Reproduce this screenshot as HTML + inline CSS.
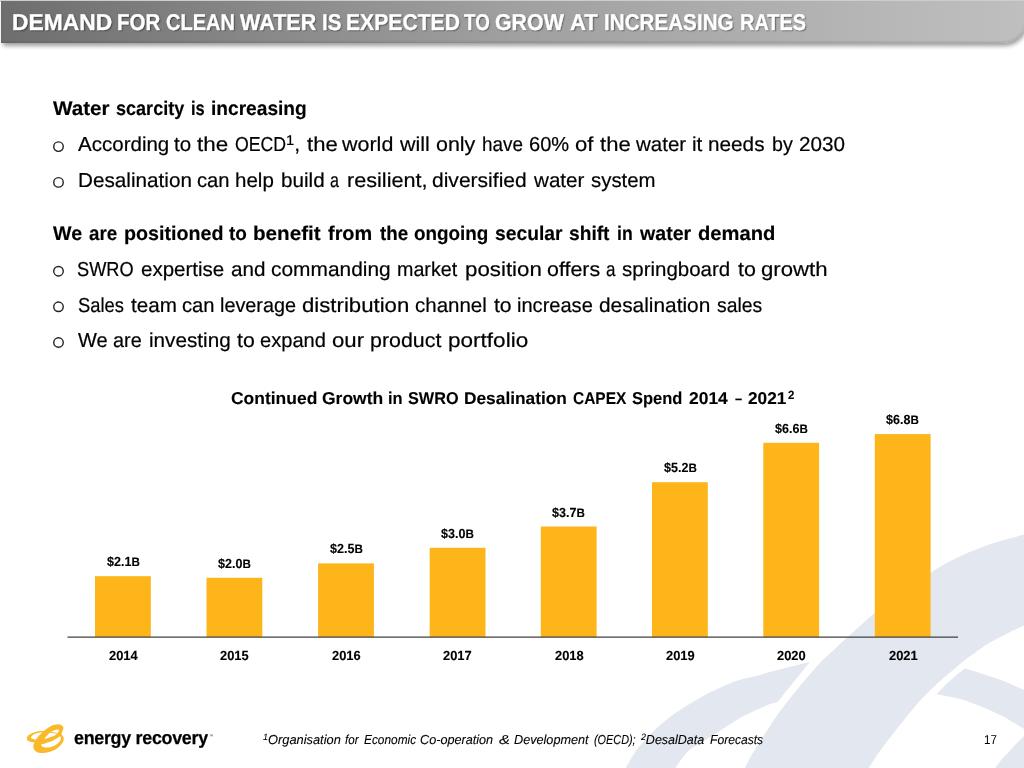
<!DOCTYPE html>
<html lang="en"><head><meta charset="utf-8"><title>Demand for clean water</title>
<style>
*{margin:0;padding:0;box-sizing:border-box}
html,body{width:1024px;height:768px;overflow:hidden;background:#fff}
body{position:relative;font-family:"Liberation Sans", sans-serif;color:#000}
.t{position:absolute;white-space:nowrap;transform-origin:0 0;line-height:1.2;text-rendering:geometricPrecision}
.sp{font-size:.70em;position:relative;top:-.46em}
.sb{font-size:.93em}

.hdr{position:absolute;left:1px;top:1px;width:1024px;height:42px;border-radius:0 0 22px 0;
 background:linear-gradient(90deg,#6e6e6e 0%,#888888 25%,#a0a0a0 50%,#afafaf 75%,#b8b8b8 88%,#bfbfbf 100%);
 box-shadow:2px 3px 4px rgba(0,0,0,.38), inset 0 -1.5px 1.5px rgba(0,0,0,.10);}
.hdrtop{position:absolute;left:0;top:0;width:1024px;height:1.5px;background:#d2d2d2}
.wm,.lg,.ch{position:absolute;left:0;top:0}
.ln{position:absolute;left:0;width:1024px;height:0;line-height:1.2;white-space:pre}
.ln .t{top:0;white-space:pre}
.reg{position:absolute;left:209.9px;top:734px;font-size:4.2px;font-weight:bold;color:#333;line-height:1}
</style></head>
<body>
<svg class="wm" width="1024" height="768" viewBox="0 0 1024 768"><g fill="#e3e7f0"><path d="M623.0,772.0C623.9,770.7 626.2,767.2 628.1,764.0C630.0,760.8 631.7,756.9 634.4,753.0C637.1,749.1 640.8,744.7 644.5,740.5C648.2,736.3 652.0,732.4 656.9,728.0C661.8,723.6 667.4,718.7 674.0,714.0C680.6,709.3 689.4,704.0 696.2,700.0C703.1,696.0 708.1,693.2 715.0,690.0C721.9,686.8 730.2,683.0 737.5,680.5C744.8,678.0 752.1,677.0 758.8,675.2C765.4,673.5 771.2,671.6 777.5,670.0C783.8,668.4 790.9,666.6 796.2,665.3C801.6,664.0 807.5,662.5 809.8,662.0L777.5,701.9C775.9,702.4 772.2,703.0 768.0,704.7C763.8,706.4 756.7,709.8 752.0,712.0C747.3,714.2 744.6,715.3 740.0,718.0C735.4,720.7 730.1,724.4 724.4,728.0C718.7,731.6 711.7,735.9 706.0,739.5C700.3,743.1 693.8,746.6 690.0,749.5C686.2,752.4 685.0,754.6 683.0,757.0C681.0,759.4 679.9,761.5 678.1,764.0C676.4,766.5 673.4,770.7 672.5,772.0Z"/><path d="M743.0,772.0C743.6,770.7 745.3,767.1 746.9,764.0C748.5,760.9 750.3,757.2 752.5,753.5C754.7,749.8 757.3,745.8 760.0,741.5C762.7,737.2 765.8,732.6 768.8,728.0C771.8,723.4 774.7,718.7 778.0,714.0C781.3,709.3 785.4,704.3 788.8,700.0C792.1,695.7 795.6,691.3 798.3,688.0C801.0,684.7 802.2,683.2 805.0,680.0C807.8,676.8 811.8,672.1 815.0,668.5C818.2,664.9 821.3,661.4 824.3,658.5C827.2,655.6 829.9,653.6 832.7,651.0C835.5,648.4 838.2,645.7 841.0,643.1C843.8,640.5 846.5,638.1 849.3,635.6C852.1,633.1 854.9,630.6 857.7,628.1C860.5,625.6 863.2,623.0 866.0,620.6C868.8,618.2 870.3,616.7 874.3,613.5C878.3,610.3 884.0,605.9 890.0,601.5C896.0,597.1 903.0,592.0 910.0,587.0C917.0,582.0 925.9,575.8 932.0,571.8C938.1,567.8 941.7,565.7 946.6,563.0C951.5,560.3 956.4,557.9 961.2,555.7C966.1,553.5 970.9,551.6 975.7,549.6C980.6,547.6 985.4,545.6 990.3,544.0C995.2,542.4 999.3,541.3 1004.9,539.7C1010.5,538.1 1019.5,535.8 1024.0,534.6C1028.5,533.4 1030.7,532.9 1032.0,532.5L1032.0,621.5C1030.7,622.2 1027.2,624.0 1024.0,625.5C1020.8,627.0 1016.6,628.8 1013.0,630.5C1009.4,632.2 1006.8,633.8 1002.5,636.0C998.2,638.2 991.9,641.3 987.5,644.0C983.1,646.7 979.8,649.3 976.0,652.0C972.2,654.7 968.8,657.0 965.0,660.0C961.2,663.0 957.0,666.7 953.0,670.0C949.0,673.3 945.0,676.7 941.2,680.0C937.5,683.3 933.9,686.7 930.5,690.0C927.1,693.3 923.7,696.7 920.6,700.0C917.5,703.3 914.8,706.7 912.0,710.0C909.2,713.3 907.0,716.2 904.0,720.0C901.0,723.8 897.3,728.3 894.0,732.5C890.7,736.7 887.1,741.3 884.4,745.0C881.6,748.7 879.7,751.3 877.5,754.5C875.3,757.7 873.1,761.1 871.3,764.0C869.5,766.9 867.3,770.7 866.5,772.0Z"/><path d="M964.8,668.6C967.5,669.4 974.9,671.4 981.1,673.4C987.3,675.4 995.1,677.7 1002.2,680.5C1009.4,683.3 1019.0,687.8 1024.0,690.0C1029.0,692.2 1030.7,693.3 1032.0,694.0L1032.0,734.0C1030.7,733.1 1029.0,731.9 1024.0,728.9C1019.0,725.9 1009.4,719.8 1002.2,716.0C995.1,712.2 988.1,709.2 981.1,706.4C974.1,703.5 967.4,700.9 960.0,698.9C952.6,696.9 940.5,695.0 936.6,694.2Q949,680.5 964.8,668.6Z"/><path d="M992.0,772.0C992.5,771.3 993.5,770.2 995.2,768.0C996.9,765.8 999.7,761.8 1002.0,759.0C1004.3,756.2 1006.9,753.9 1009.2,751.4C1011.5,748.9 1013.5,746.6 1016.0,744.0C1018.5,741.4 1021.3,738.6 1024.0,736.0C1026.7,733.4 1030.7,729.8 1032.0,728.5L1032,772Z"/></g></svg>
<div class="hdrtop"></div>
<div class="hdr"></div>
<svg class="ch" width="1024" height="768" viewBox="0 0 1024 768"><rect x="95.0" y="576.2" width="55.8" height="60.8" fill="#fdb51a"/><rect x="206.5" y="577.8" width="55.8" height="59.2" fill="#fdb51a"/><rect x="318.1" y="563.4" width="55.8" height="73.6" fill="#fdb51a"/><rect x="429.7" y="547.8" width="55.8" height="89.2" fill="#fdb51a"/><rect x="540.8" y="526.5" width="55.8" height="110.5" fill="#fdb51a"/><rect x="652.0" y="482.2" width="55.8" height="154.8" fill="#fdb51a"/><rect x="763.3" y="442.8" width="55.8" height="194.2" fill="#fdb51a"/><rect x="874.8" y="434.1" width="55.8" height="202.9" fill="#fdb51a"/><line x1="67.5" y1="637.05" x2="958" y2="637.05" stroke="#404040" stroke-width="1.35"/></svg>
<svg class="ch" width="1024" height="768" viewBox="0 0 1024 768"><g fill="none" stroke="#222" stroke-width="1.4"><circle cx="58.5" cy="146.6" r="4.75"/><circle cx="58.5" cy="182.4" r="4.75"/><circle cx="58.5" cy="271.2" r="4.75"/><circle cx="58.5" cy="306.8" r="4.75"/><circle cx="58.5" cy="342.5" r="4.75"/></g></svg>

<div class="ln" style="top:9.02px;font-size:22.8px;font-weight:bold;color:#fff;-webkit-text-stroke:0.35px #fff;text-shadow:1px 1px 1.5px rgba(0,0,0,.5);"><span class="t" style="left:11.70px;transform:scaleX(1.0005)">DEMAND </span><span class="t" style="left:116.95px;transform:scaleX(0.9000)">FOR </span><span class="t" style="left:166.12px;transform:scaleX(0.8783)">CLEAN </span><span class="t" style="left:239.80px;transform:scaleX(0.9462)">WATER </span><span class="t" style="left:321.94px;transform:scaleX(0.9028)">IS </span><span class="t" style="left:345.65px;transform:scaleX(0.9271)">EXPECTED </span><span class="t" style="left:464.00px;transform:scaleX(0.8250)">TO </span><span class="t" style="left:495.31px;transform:scaleX(0.9375)">GROW </span><span class="t" style="left:570.28px;transform:scaleX(0.9722)">AT </span><span class="t" style="left:603.94px;transform:scaleX(0.9054)">INCREASING </span><span class="t" style="left:739.50px;transform:scaleX(0.8743)">RATES</span></div>
<div class="ln" style="top:98.02px;font-size:19.8px;font-weight:bold;-webkit-text-stroke:0.15px #000;"><span class="t" style="left:53.00px;transform:scaleX(1.0417)">Water </span><span class="t" style="left:115.84px;transform:scaleX(0.9122)">scarcity </span><span class="t" style="left:190.92px;transform:scaleX(0.8333)">is </span><span class="t" style="left:210.78px;transform:scaleX(0.9675)">increasing</span></div>
<div class="ln" style="top:133.02px;font-size:20.2px;-webkit-text-stroke:0.2px #000;"><span class="t" style="left:78.00px;transform:scaleX(1.0169)">According </span><span class="t" style="left:174.25px;transform:scaleX(1.0156)">to </span><span class="t" style="left:196.75px;transform:scaleX(1.1111)">the </span><span class="t" style="left:234.62px;transform:scaleX(0.8772)">OECD</span><span class="t" style="left:286.20px;transform:scaleX(1.0455)"><span class="sp">1</span>, </span><span class="t" style="left:306.50px;transform:scaleX(1.0926)">the </span><span class="t" style="left:342.25px;transform:scaleX(1.0638)">world </span><span class="t" style="left:399.75px;transform:scaleX(1.0648)">will </span><span class="t" style="left:436.19px;transform:scaleX(1.0625)">only </span><span class="t" style="left:482.07px;transform:scaleX(0.9345)">have </span><span class="t" style="left:529.01px;transform:scaleX(0.9936)">60% </span><span class="t" style="left:575.16px;transform:scaleX(1.0938)">of </span><span class="t" style="left:600.00px;transform:scaleX(1.0926)">the </span><span class="t" style="left:635.50px;transform:scaleX(1.0153)">water </span><span class="t" style="left:691.72px;transform:scaleX(1.0278)">it </span><span class="t" style="left:707.97px;transform:scaleX(1.0278)">needs </span><span class="t" style="left:772.02px;transform:scaleX(0.9750)">by </span><span class="t" style="left:799.47px;transform:scaleX(1.0256)">2030</span></div>
<div class="ln" style="top:169.02px;font-size:20.2px;-webkit-text-stroke:0.2px #000;"><span class="t" style="left:78.22px;transform:scaleX(1.0252)">Desalination </span><span class="t" style="left:197.00px;transform:scaleX(1.0000)">can </span><span class="t" style="left:234.98px;transform:scaleX(1.0162)">help </span><span class="t" style="left:280.73px;transform:scaleX(1.0244)">build </span><span class="t" style="left:330.45px;transform:scaleX(0.7955)">a </span><span class="t" style="left:346.93px;transform:scaleX(1.0719)">resilient, </span><span class="t" style="left:432.46px;transform:scaleX(1.0421)">diversified </span><span class="t" style="left:533.75px;transform:scaleX(1.0204)">water </span><span class="t" style="left:590.99px;transform:scaleX(1.0097)">system</span></div>
<div class="ln" style="top:223.02px;font-size:19.8px;font-weight:bold;-webkit-text-stroke:0.15px #000;"><span class="t" style="left:53.00px;transform:scaleX(0.9914)">We </span><span class="t" style="left:89.25px;transform:scaleX(0.9483)">are </span><span class="t" style="left:124.01px;transform:scaleX(0.9949)">positioned </span><span class="t" style="left:229.25px;transform:scaleX(0.9583)">to </span><span class="t" style="left:253.36px;transform:scaleX(1.0445)">benefit </span><span class="t" style="left:328.00px;transform:scaleX(1.0058)">from </span><span class="t" style="left:379.50px;transform:scaleX(0.9483)">the </span><span class="t" style="left:414.05px;transform:scaleX(0.9539)">ongoing </span><span class="t" style="left:495.28px;transform:scaleX(0.9743)">secular </span><span class="t" style="left:569.03px;transform:scaleX(0.9695)">shift </span><span class="t" style="left:616.86px;transform:scaleX(0.8906)">in </span><span class="t" style="left:639.75px;transform:scaleX(0.9904)">water </span><span class="t" style="left:698.48px;transform:scaleX(1.0203)">demand</span></div>
<div class="ln" style="top:258.02px;font-size:20.2px;-webkit-text-stroke:0.2px #000;"><span class="t" style="left:77.10px;transform:scaleX(0.9016)">SWRO </span><span class="t" style="left:140.73px;transform:scaleX(1.0156)">expertise </span><span class="t" style="left:230.73px;transform:scaleX(1.0234)">and </span><span class="t" style="left:271.46px;transform:scaleX(1.0354)">commanding </span><span class="t" style="left:397.02px;transform:scaleX(0.9754)">market </span><span class="t" style="left:464.90px;transform:scaleX(1.1045)">position </span><span class="t" style="left:546.94px;transform:scaleX(1.0612)">offers </span><span class="t" style="left:606.16px;transform:scaleX(0.8409)">a </span><span class="t" style="left:622.49px;transform:scaleX(1.0143)">springboard </span><span class="t" style="left:737.50px;transform:scaleX(1.0625)">to </span><span class="t" style="left:760.90px;transform:scaleX(1.0983)">growth</span></div>
<div class="ln" style="top:294.02px;font-size:20.2px;-webkit-text-stroke:0.2px #000;"><span class="t" style="left:77.59px;transform:scaleX(0.9082)">Sales </span><span class="t" style="left:130.50px;transform:scaleX(1.0227)">team </span><span class="t" style="left:182.00px;transform:scaleX(1.0000)">can </span><span class="t" style="left:220.02px;transform:scaleX(0.9816)">leverage </span><span class="t" style="left:302.15px;transform:scaleX(1.0990)">distribution </span><span class="t" style="left:415.24px;transform:scaleX(1.0145)">channel </span><span class="t" style="left:493.75px;transform:scaleX(1.0469)">to </span><span class="t" style="left:517.01px;transform:scaleX(0.9933)">increase </span><span class="t" style="left:598.97px;transform:scaleX(1.0330)">desalination </span><span class="t" style="left:716.54px;transform:scaleX(0.9587)">sales</span></div>
<div class="ln" style="top:329.02px;font-size:20.2px;-webkit-text-stroke:0.2px #000;"><span class="t" style="left:78.00px;transform:scaleX(0.9914)">We </span><span class="t" style="left:113.27px;transform:scaleX(0.9821)">are </span><span class="t" style="left:148.97px;transform:scaleX(1.0256)">investing </span><span class="t" style="left:236.75px;transform:scaleX(1.0531)">to </span><span class="t" style="left:260.25px;transform:scaleX(0.9961)">expand </span><span class="t" style="left:331.90px;transform:scaleX(1.0982)">our </span><span class="t" style="left:370.19px;transform:scaleX(1.0606)">product </span><span class="t" style="left:447.63px;transform:scaleX(1.1164)">portfolio</span></div>
<div class="ln" style="top:389.02px;font-size:17.1px;font-weight:bold;-webkit-text-stroke:0.12px #000;"><span class="t" style="left:231.23px;transform:scaleX(1.0213)">Continued </span><span class="t" style="left:321.73px;transform:scaleX(1.0216)">Growth </span><span class="t" style="left:388.04px;transform:scaleX(0.9615)">in </span><span class="t" style="left:407.55px;transform:scaleX(0.9500)">SWRO </span><span class="t" style="left:463.99px;transform:scaleX(1.0125)">Desalination </span><span class="t" style="left:572.84px;transform:scaleX(0.9052)">CAPEX </span><span class="t" style="left:632.03px;transform:scaleX(0.9650)">Spend </span><span class="t" style="left:688.75px;transform:scaleX(1.0197)">2014 </span><span class="t" style="left:734.50px;transform:scaleX(0.7500)">– </span><span class="t" style="left:748.00px;transform:scaleX(1.0066)">2021</span><span class="t" style="left:788.00px;transform:scaleX(0.9583)"><span class="sp">2</span></span></div>
<div class="ln" style="top:732.02px;font-size:13.0px;font-style:italic;-webkit-text-stroke:0.1px #000;"><span class="t" style="left:262.75px;transform:scaleX(0.9872)"><span class="sp">1</span>Organisation </span><span class="t" style="left:344.75px;transform:scaleX(0.8906)">for </span><span class="t" style="left:364.00px;transform:scaleX(0.9123)">Economic </span><span class="t" style="left:420.03px;transform:scaleX(0.9730)">Co-operation </span><span class="t" style="left:498.50px;transform:scaleX(1.2625)">&amp; </span><span class="t" style="left:513.75px;transform:scaleX(0.9740)">Development </span><span class="t" style="left:593.75px;transform:scaleX(0.8350)">(OECD); </span><span class="t" style="left:641.25px;transform:scaleX(0.9615)"><span class="sp">2</span>DesalData </span><span class="t" style="left:709.50px;transform:scaleX(0.9316)">Forecasts</span></div>
<div class="t" style="left:984.10px;top:732.02px;font-size:12.9px;transform:scaleX(0.9000);">17</div>
<div class="t" style="left:74.00px;top:727.02px;font-size:18.6px;transform:scaleX(0.9614);font-weight:bold;letter-spacing:-0.3px;-webkit-text-stroke:0.25px #000;">energy recovery</div>
<div class="t" style="left:106.60px;top:554.02px;font-size:13.2px;transform:scaleX(0.9500);font-weight:bold;-webkit-text-stroke:0.12px #000;">$2.1<span class="sb">B</span></div>
<div class="t" style="left:108.70px;top:648.02px;font-size:13.2px;transform:scaleX(0.9793);font-weight:bold;-webkit-text-stroke:0.12px #000;">2014</div>
<div class="t" style="left:218.10px;top:556.02px;font-size:13.2px;transform:scaleX(0.9500);font-weight:bold;-webkit-text-stroke:0.12px #000;">$2.0<span class="sb">B</span></div>
<div class="t" style="left:220.20px;top:648.02px;font-size:13.2px;transform:scaleX(0.9793);font-weight:bold;-webkit-text-stroke:0.12px #000;">2015</div>
<div class="t" style="left:329.70px;top:541.02px;font-size:13.2px;transform:scaleX(0.9500);font-weight:bold;-webkit-text-stroke:0.12px #000;">$2.5<span class="sb">B</span></div>
<div class="t" style="left:331.80px;top:648.02px;font-size:13.2px;transform:scaleX(0.9793);font-weight:bold;-webkit-text-stroke:0.12px #000;">2016</div>
<div class="t" style="left:441.30px;top:526.02px;font-size:13.2px;transform:scaleX(0.9500);font-weight:bold;-webkit-text-stroke:0.12px #000;">$3.0<span class="sb">B</span></div>
<div class="t" style="left:443.40px;top:648.02px;font-size:13.2px;transform:scaleX(0.9793);font-weight:bold;-webkit-text-stroke:0.12px #000;">2017</div>
<div class="t" style="left:552.40px;top:505.02px;font-size:13.2px;transform:scaleX(0.9500);font-weight:bold;-webkit-text-stroke:0.12px #000;">$3.7<span class="sb">B</span></div>
<div class="t" style="left:554.50px;top:648.02px;font-size:13.2px;transform:scaleX(0.9793);font-weight:bold;-webkit-text-stroke:0.12px #000;">2018</div>
<div class="t" style="left:663.60px;top:460.02px;font-size:13.2px;transform:scaleX(0.9500);font-weight:bold;-webkit-text-stroke:0.12px #000;">$5.2<span class="sb">B</span></div>
<div class="t" style="left:665.70px;top:648.02px;font-size:13.2px;transform:scaleX(0.9793);font-weight:bold;-webkit-text-stroke:0.12px #000;">2019</div>
<div class="t" style="left:774.90px;top:421.02px;font-size:13.2px;transform:scaleX(0.9500);font-weight:bold;-webkit-text-stroke:0.12px #000;">$6.6<span class="sb">B</span></div>
<div class="t" style="left:777.00px;top:648.02px;font-size:13.2px;transform:scaleX(0.9793);font-weight:bold;-webkit-text-stroke:0.12px #000;">2020</div>
<div class="t" style="left:886.40px;top:412.02px;font-size:13.2px;transform:scaleX(0.9500);font-weight:bold;-webkit-text-stroke:0.12px #000;">$6.8<span class="sb">B</span></div>
<div class="t" style="left:888.50px;top:648.02px;font-size:13.2px;transform:scaleX(0.9793);font-weight:bold;-webkit-text-stroke:0.12px #000;">2021</div>

<svg class="lg" width="1024" height="768" viewBox="0 0 1024 768"><path fill="#fbb829" fill-rule="evenodd" d="M63.4,728.0C63.4,726.5 62.4,725.8 61.5,725.2C60.6,724.5 59.3,724.1 57.7,724.2C56.2,724.3 54.0,724.8 52.1,725.6C50.2,726.4 48.2,727.7 46.5,728.9C44.8,730.1 43.3,731.2 41.8,732.7C40.3,734.1 38.8,735.9 37.6,737.3C36.4,738.8 35.5,740.2 34.8,741.6C34.1,742.9 33.5,744.1 33.4,745.3C33.2,746.6 33.3,748.0 33.8,749.1C34.4,750.1 35.3,751.2 36.7,751.9C38.0,752.5 39.9,753.0 41.8,753.0C43.8,753.1 46.3,752.8 48.4,752.3C50.5,751.8 52.6,751.0 54.5,750.0C56.3,749.0 58.2,747.6 59.6,746.2C61.0,744.9 62.2,743.3 62.9,742.0C63.6,740.8 63.8,739.8 63.8,738.7C63.8,737.7 63.3,736.7 62.9,735.9C62.5,735.2 61.4,735.4 61.5,734.1C61.6,732.7 63.4,729.5 63.4,728.0Z M44.6,738.7C44.8,737.9 47.0,735.4 48.4,734.1C49.8,732.7 51.5,731.6 53.1,730.8C54.6,730.0 56.8,729.4 57.7,729.4C58.7,729.4 59.1,730.0 58.9,730.8C58.8,731.6 57.9,733.0 56.8,734.1C55.7,735.2 53.7,736.5 52.1,737.3C50.6,738.2 48.7,739.0 47.4,739.2C46.2,739.4 44.5,739.6 44.6,738.7Z M41.3,744.4C41.7,743.8 43.3,744.0 45.1,743.4C46.9,742.9 50.0,742.0 52.1,741.1C54.2,740.1 56.4,738.6 57.7,737.8C59.1,737.0 59.8,736.1 60.3,736.4C60.8,736.7 61.0,738.5 60.6,739.7C60.1,740.9 59.0,742.3 57.7,743.4C56.5,744.5 54.8,745.5 53.1,746.2C51.3,746.9 49.1,747.6 47.4,747.6C45.7,747.7 43.8,747.3 42.7,746.7C41.7,746.2 40.9,744.9 41.3,744.4Z"/><path fill="#fbb829" fill-rule="evenodd" d="M26.9,738.7C26.9,737.9 27.2,736.6 28.0,735.7C28.7,734.8 30.1,734.0 31.5,733.4C32.9,732.7 34.6,732.1 36.2,731.7C37.7,731.3 39.4,731.1 40.9,731.0C42.4,730.9 43.5,730.9 45.1,731.0C46.6,731.1 48.4,731.2 50.2,731.5C52.0,731.8 54.0,732.2 55.9,732.7C57.7,733.1 60.9,733.7 61.3,734.2C61.6,734.7 59.3,735.0 57.7,735.8C56.2,736.5 54.2,737.8 52.1,738.7C50.0,739.6 47.4,740.5 45.1,741.0C42.7,741.6 40.4,742.1 38.1,742.2C35.7,742.4 32.7,742.2 31.0,741.9C29.3,741.6 28.4,741.0 27.7,740.5C27.1,740.0 26.9,739.5 26.9,738.7Z M31.0,738.0C30.8,737.5 31.4,736.5 32.0,735.8C32.6,735.2 33.4,734.6 34.5,734.1C35.7,733.5 37.4,733.0 39.0,732.7C40.6,732.3 42.3,732.0 44.1,732.0C46.0,732.0 48.3,732.1 50.2,732.4C52.2,732.7 54.4,733.3 55.9,733.6C57.3,734.0 58.6,734.1 58.8,734.3C58.9,734.6 57.9,734.6 56.8,735.0C55.7,735.4 53.8,736.0 52.1,736.6C50.4,737.2 48.2,738.0 46.5,738.5C44.8,739.0 43.4,739.2 41.8,739.4C40.2,739.5 38.1,739.7 36.7,739.6C35.2,739.5 34.1,739.2 33.1,738.9C32.2,738.7 31.2,738.6 31.0,738.0Z"/></svg>
<div class="reg">&reg;</div>
</body></html>
